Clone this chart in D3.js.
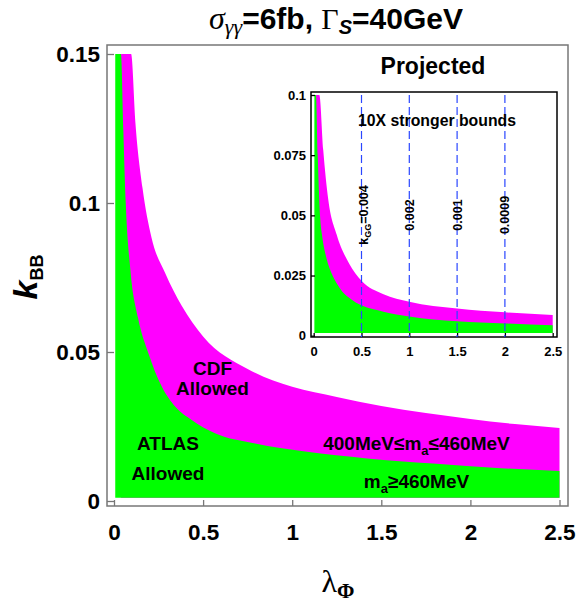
<!DOCTYPE html>
<html>
<head>
<meta charset="utf-8">
<script src="https://cdnjs.cloudflare.com/ajax/libs/d3/7.8.5/d3.min.js"></script>
<style>
body { margin: 0; background: #fff; }
svg text { font-family: "Liberation Sans", Arial, sans-serif; font-weight: bold; white-space: pre; }
</style>
</head>
<body>
<svg id="chart" width="576" height="605"></svg>
<script>
// main panel
const xTicks = [0, 0.5, 1, 1.5, 2, 2.5];
const yTicks = [0, 0.05, 0.1, 0.15];
const lambdaMin = 0.007;   // left edge of the allowed bands
const kFloor = 0.0011;     // bottom edge of the bands

// ATLAS allowed: green up to this curve
const atlasLambda = [0.039, 0.052, 0.066, 0.092, 0.135, 0.193, 0.268, 0.343, 0.436, 0.567, 0.792, 1.073, 1.42, 1.79, 2.17, 2.5];
const atlasK      = [0.15, 0.125, 0.1, 0.0775, 0.0614, 0.0496, 0.0384, 0.0317, 0.0272, 0.0227, 0.0193, 0.0166, 0.0143, 0.0126, 0.0110, 0.0101];
// CDF allowed: magenta up to this curve
const cdfLambda = [0.096, 0.12, 0.16, 0.21, 0.287, 0.38, 0.5, 0.75, 1.0, 1.25, 1.5, 1.75, 2.0, 2.25, 2.5];
const cdfK      = [0.15, 0.127, 0.105, 0.0885, 0.0765, 0.0655, 0.0552, 0.0443, 0.0383, 0.0349, 0.0319, 0.0295, 0.0275, 0.0258, 0.0245];

// inset: projected, 10X stronger bounds
const insetYTicks = [0, 0.025, 0.05, 0.075, 0.1];
const insetAtlasLambda = [0.024, 0.042, 0.066, 0.09, 0.125, 0.188, 0.24, 0.3, 0.38, 0.5, 0.73, 1.0, 1.5, 2.0, 2.5];
const insetAtlasK      = [0.1, 0.075, 0.05, 0.041, 0.0336, 0.0258, 0.0218, 0.0183, 0.0155, 0.0126, 0.01, 0.008, 0.006, 0.0051, 0.0043];
const insetCdfLambda = [0.059, 0.10, 0.153, 0.24, 0.37, 0.5, 0.73, 1.0, 1.5, 2.0, 2.5];
const insetCdfK      = [0.1, 0.077, 0.0564, 0.042, 0.030, 0.0228, 0.0172, 0.0141, 0.0113, 0.0097, 0.0086];
const kggLambda = [0.5, 1, 1.5, 2];
const kggLabels = ["=0.004", "0.002", "0.001", "0.0009"];

const GREEN = "#00ff00", MAGENTA = "#ff00ff";
const svg = d3.select("#chart");

function zip(ls, ks) {
    return ls.map((l, i) => ({ l: l, k: ks[i] }));
}

// draws both bands, the frame and the axes of one panel
function drawPanel(o) {
    const x = d3.scaleLinear().domain([0, 2.5]).range(o.xRange);
    const y = d3.scaleLinear().domain([0, o.kMax]).range(o.yRange);

    const area = d3.area()
        .x(d => x(d.l))
        .y0(y(kFloor))
        .y1(d => y(d.k))
        .curve(d3.curveMonotoneX);

    const cdf = [{ l: o.atlasL[0], k: o.kMax }].concat(zip(o.cdfL, o.cdfK));
    const atlas = [{ l: lambdaMin, k: o.kMax }].concat(zip(o.atlasL, o.atlasK));

    svg.append("path").datum(cdf).attr("d", area).attr("fill", MAGENTA);
    svg.append("path").datum(atlas).attr("d", area).attr("fill", GREEN);

    svg.append("rect")
        .attr("x", o.frame[0]).attr("y", o.frame[1])
        .attr("width", o.frame[2] - o.frame[0]).attr("height", o.frame[3] - o.frame[1])
        .attr("fill", "none").attr("stroke", o.frameColor).attr("stroke-width", 1.5);

    const gx = svg.append("g")
        .attr("transform", "translate(0," + o.frame[3] + ")")
        .call(d3.axisBottom(x).tickValues(xTicks).tickFormat(d => String(d))
            .tickSizeInner(-o.tickLen[0]).tickSizeOuter(0).tickPadding(o.xPad));
    const gy = svg.append("g")
        .attr("transform", "translate(" + o.frame[0] + ",0)")
        .call(d3.axisLeft(y).tickValues(o.yTicks).tickFormat(d => String(d))
            .tickSizeInner(-o.tickLen[1]).tickSizeOuter(0).tickPadding(o.yPad));

    [gx, gy].forEach(g => {
        g.select(".domain").remove();
        g.attr("font-family", null).attr("font-size", null);
        g.selectAll("line").attr("stroke", o.frameColor).attr("stroke-width", 1.3);
        g.selectAll("text").attr("fill", "#000").style("font-size", o.tickFont + "px");
    });
    return { x: x, y: y };
}

drawPanel({
    xRange: [114, 559.5], yRange: [501, 54], kMax: 0.15,
    frame: [107, 45, 568, 506], frameColor: "#777",
    yTicks: yTicks, tickLen: [6, 7], xPad: 18.4, yPad: 7, tickFont: 22.5,
    atlasL: atlasLambda, atlasK: atlasK, cdfL: cdfLambda, cdfK: cdfK
});

const inset = drawPanel({
    xRange: [313.7, 552.7], yRange: [335.7, 95], kMax: 0.1,
    frame: [311, 92, 557, 337], frameColor: "#000",
    yTicks: insetYTicks, tickLen: [4, 4], xPad: 10, yPad: 5, tickFont: 13,
    atlasL: insetAtlasLambda, atlasK: insetAtlasK, cdfL: insetCdfLambda, cdfK: insetCdfK
});

// k_GG reference lines in the inset
svg.append("g").selectAll("line")
    .data(kggLambda)
    .join("line")
    .attr("x1", d => inset.x(d)).attr("x2", d => inset.x(d))
    .attr("y1", inset.y(0.1)).attr("y2", 337)
    .attr("stroke", "#2a46ff").attr("stroke-width", 1.2)
    .attr("stroke-dasharray", "8,4");

const kggText = svg.append("g").selectAll("text")
    .data(kggLambda)
    .join("text")
    .attr("transform", (d, i) => "translate(" + (inset.x(d) + (i == 0 ? 6.5 : 4.5)) + ",215) rotate(-90)")
    .attr("text-anchor", "middle")
    .style("font-size", "12.5px");
kggText.each(function (d, i) {
    const t = d3.select(this);
    if (i == 0) {
        t.append("tspan").text("k");
        t.append("tspan").attr("dy", 3).style("font-size", "9px").text("GG");
        t.append("tspan").attr("dy", -3).text(kggLabels[i]);
    } else {
        t.text(kggLabels[i]);
    }
});

svg.append("text").attr("x", 433).attr("y", 74).attr("text-anchor", "middle")
    .style("font-size", "23px").text("Projected");
svg.append("text").attr("x", 437).attr("y", 126).attr("text-anchor", "middle")
    .style("font-size", "15.8px").text("10X stronger bounds");

// region labels
const labels = [
    { x: 212.5, y: 375, t: "CDF" },
    { x: 212.5, y: 395, t: "Allowed" },
    { x: 168, y: 450, t: "ATLAS" },
    { x: 168, y: 480, t: "Allowed" }
];
svg.append("g").selectAll("text")
    .data(labels)
    .join("text")
    .attr("x", d => d.x).attr("y", d => d.y)
    .attr("text-anchor", "middle")
    .style("font-size", "19px")
    .text(d => d.t);

const mRange = svg.append("text").attr("x", 416.5).attr("y", 450).attr("text-anchor", "middle").style("font-size", "19px");
mRange.append("tspan").text("400MeV\u2264m");
mRange.append("tspan").attr("dy", 5).style("font-size", "13px").text("a");
mRange.append("tspan").attr("dy", -5).text("\u2264460MeV");

const mHigh = svg.append("text").attr("x", 416.5).attr("y", 488).attr("text-anchor", "middle").style("font-size", "19px");
mHigh.append("tspan").text("m");
mHigh.append("tspan").attr("dy", 5).style("font-size", "13px").text("a");
mHigh.append("tspan").attr("dy", -5).text("\u2265460MeV");

// title
const serif = "'Liberation Serif', 'Times New Roman', serif";
const title = svg.append("text").attr("x", 336).attr("y", 29).attr("text-anchor", "middle").style("font-size", "30px");
title.append("tspan").style("font-family", serif).style("font-style", "italic").style("font-weight", "normal").style("font-size", "32px").text("\u03c3");
title.append("tspan").attr("dy", 5).style("font-family", serif).style("font-style", "italic").style("font-weight", "normal").style("font-size", "22px").text("\u03b3\u03b3");
title.append("tspan").attr("dy", -5).text("=6fb, ");
title.append("tspan").style("font-family", serif).style("font-weight", "normal").style("font-size", "30px").text("\u0393");
title.append("tspan").attr("dy", 5).style("font-style", "italic").style("font-size", "20px").text("S");
title.append("tspan").attr("dy", -5).text("=40GeV");

// axis titles
const xLabel = svg.append("text").attr("x", 338).attr("y", 592).attr("text-anchor", "middle");
xLabel.append("tspan").style("font-family", serif).style("font-weight", "normal").style("font-size", "32px").text("\u03bb");
xLabel.append("tspan").attr("dy", 6).style("font-family", serif).style("font-size", "21px").text("\u03a6");

const yLabel = svg.append("text").attr("transform", "translate(37,277) rotate(-90)").attr("text-anchor", "middle");
yLabel.append("tspan").style("font-style", "italic").style("font-size", "34px").text("k");
yLabel.append("tspan").attr("dy", 6).style("font-size", "18px").text("BB");
</script>
</body>
</html>
